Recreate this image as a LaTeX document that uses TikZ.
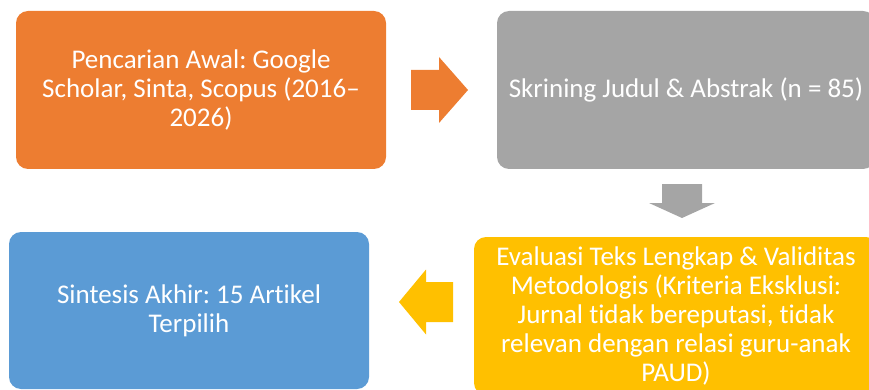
\documentclass[tikz,border=0pt]{standalone}
\usepackage{fontspec}
\setmainfont{Carlito}[Ligatures=CommonOff]
\frenchspacing
\usetikzlibrary{calc}
\definecolor{boxorange}{HTML}{ED7D31}
\definecolor{boxgray}{HTML}{A5A5A5}
\definecolor{boxyellow}{HTML}{FFC000}
\definecolor{boxblue}{HTML}{5B9BD5}
\def\blockarrow[#1](#2)(#3)(#4:#5:#6){\coordinate (hb) at ($(#3)!#6!(#2)$);
	\fill[#1] ($(#2)!#4!90:(#3)$) -- ($(hb)!#4!90:(#3)$) -- ($(hb)!#5!90:(#3)$) -- (#3)
	-- ($(hb)!#5!-90:(#3)$) -- ($(hb)!#4!-90:(#3)$) -- ($(#2)!#4!-90:(#3)$) -- cycle;}

\begin{document}
\begin{tikzpicture}[x=1pt, y=-1pt,
	stage/.style={rectangle, rounded corners=12pt, text=white, align=center, inner sep=0pt,
		font=\fontsize{27}{29}\selectfont}]
		%%%%% START %%%%%
		\useasboundingbox (0, 0) rectangle (869, 390);
		
		\node[stage, fill=boxorange, minimum width=370pt, minimum height=158pt] (search) at (201, 90)
			{Pencarian Awal: Google\\Scholar, Sinta, Scopus (2016--\\2026)};
		\node[stage, fill=boxgray, minimum width=378pt, minimum height=158pt] (screen) at (686, 90)
			{Skrining Judul \& Abstrak (n = 85)};
		\node[stage, fill=boxyellow, minimum width=404pt, minimum height=158pt] (evaluate) at (676, 316)
			{Evaluasi Teks Lengkap \& Validitas\\Metodologis (Kriteria Eksklusi:\\Jurnal tidak bereputasi, tidak\\relevan dengan relasi guru-anak\\PAUD)};
		\node[stage, fill=boxblue, minimum width=360pt, minimum height=157pt] (final) at (189, 310.5)
			{Sintesis Akhir: 15 Artikel\\Terpilih};
		
		\coordinate (o1) at (411, 90);
		\coordinate (o2) at (468, 90);
		\blockarrow[boxorange](o1)(o2)(20pt:33pt:29pt)
		
		\coordinate (g1) at (682, 184);
		\coordinate (g2) at (682, 218);
		\blockarrow[boxgray](g1)(g2)(20pt:33pt:15pt)
		
		\coordinate (y1) at (453, 302);
		\coordinate (y2) at (399, 302);
		\blockarrow[boxyellow](y1)(y2)(20pt:32.5pt:27pt)
		
		%%%%% END %%%%%
\end{tikzpicture}
\end{document}
